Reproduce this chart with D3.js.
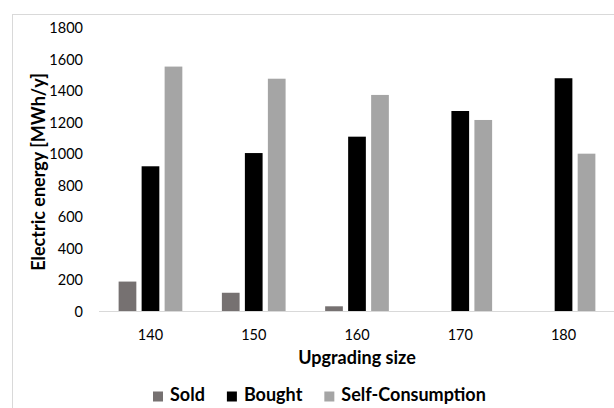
<!DOCTYPE html>
<html>
<head>
<meta charset="utf-8">
<script src="https://cdn.jsdelivr.net/npm/d3@7"></script>
<style>
html,body{margin:0;padding:0;background:#fff;}
svg{display:block;}
text{font-family:Lato,"Open Sans",sans-serif;fill:#000;}
</style>
</head>
<body>
<svg id="chart" width="614" height="408"></svg>
<script>
const categories = ["140","150","160","170","180"];
const seriesNames = ["Sold","Bought","Self-Consumption"];
const sold = [190, 119, 33, 0, 0];
const bought = [922, 1006, 1110, 1273, 1481];
const selfConsumption = [1555, 1478, 1375, 1216, 1002];
const yTicks = [0,200,400,600,800,1000,1200,1400,1600,1800];
const colors = ["#767171","#000000","#a5a5a5"];

(function(){
const seriesValues = [sold, bought, selfConsumption];
const svg = d3.select("#chart");

// outer chart border
svg.append("rect").attr("x",12.5).attr("y",14.5).attr("width",700).attr("height",500)
  .attr("fill","none").attr("stroke","#d9d9d9").attr("stroke-width",1);

const mLeft = 99, mRight = 615, mTop = 28, mBottom = 311.5;
const x0 = d3.scaleBand().domain(categories).range([mLeft,mRight]).paddingInner(0.383).paddingOuter(0.19);
const x1 = d3.scaleBand().domain(seriesNames).range([0,x0.bandwidth()]).paddingInner(0.23);
const y = d3.scaleLinear().domain([0,1800]).range([mBottom,mTop]);

// bars
const g = svg.append("g");
categories.forEach((c,i)=>{
  seriesNames.forEach((s,j)=>{
    const v = seriesValues[j][i];
    if (v<=0) return;
    g.append("rect")
      .attr("x", x0(c)+x1(s))
      .attr("y", y(v))
      .attr("width", x1.bandwidth())
      .attr("height", y(0)-y(v))
      .attr("fill", colors[j]);
  });
});

// x axis line
svg.append("line").attr("x1",mLeft).attr("x2",mRight).attr("y1",y(0)).attr("y2",y(0))
  .attr("stroke","#d9d9d9").attr("stroke-width",1);

// y axis
const yAxis = d3.axisLeft(y).tickValues(yTicks).tickFormat(d3.format("d")).tickSize(0).tickPadding(16);
const ya = svg.append("g").attr("transform",`translate(${mLeft},0)`).call(yAxis);
ya.select(".domain").remove();
ya.selectAll("text").attr("font-family","Lato, sans-serif").attr("font-size",14.5).attr("fill","#000");

// x axis labels
const xAxis = d3.axisBottom(x0).tickSize(0).tickPadding(18);
const xa = svg.append("g").attr("transform",`translate(0,${y(0)})`).call(xAxis);
xa.select(".domain").remove();
xa.selectAll("text").attr("font-family","Lato, sans-serif").attr("font-size",14.5).attr("fill","#000");

// axis titles
svg.append("text").attr("x",(mLeft+mRight)/2).attr("y",363.5)
  .attr("text-anchor","middle").attr("font-weight","bold").attr("font-size",18)
  .text("Upgrading size");
svg.append("text").attr("transform","translate(45,172) rotate(-90)")
  .attr("text-anchor","middle").attr("font-weight","bold").attr("font-size",18)
  .text("Electric energy [MWh/y]");

// legend
const leg = svg.append("g");
let lx = 153;
const ly = 401;
seriesNames.forEach((s,j)=>{
  leg.append("rect").attr("x",lx).attr("y",ly-9.5).attr("width",10).attr("height",10).attr("fill",colors[j]);
  const t = leg.append("text").attr("x",lx+17).attr("y",ly)
    .attr("font-weight","bold").attr("font-size",18).text(s);
  lx += 17 + t.node().getComputedTextLength() + 22;
});
})();
</script>
</body>
</html>
